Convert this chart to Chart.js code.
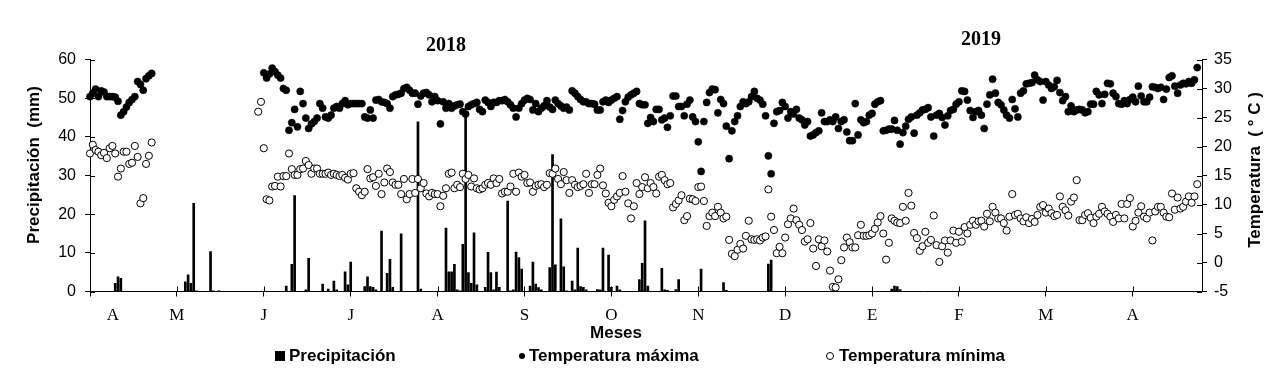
<!DOCTYPE html>
<html>
<head>
<meta charset="utf-8">
<script src="https://cdn.jsdelivr.net/npm/chart.js@4.4.1/dist/chart.umd.min.js"></script>
<style>
  html, body { margin: 0; padding: 0; background: #fff; }
  canvas { display: block; }
</style>
</head>
<body>
<canvas id="chart" width="1288" height="371"></canvas>
<script>
// month tick labels (Apr 2018 - Apr 2019), one tick every 31 daily points
const monthLabels = ['A', 'M', 'J', 'J', 'A', 'S', 'O', 'N', 'D', 'E', 'F', 'M', 'A'];
const yearLabels = ['2018', '2019'];
const pointsPerTick = 31;
const firstLabelAt = 8.2;   // the first "A" sits inside April, not on a tick
const lastDay = 396.7;

// daily maximum temperature (°C): early April block, then from day 62 on
const aprMaxStart = 0;
const aprMax = [28.6, 29.2, 29.9, 28.6, 29.6, 29.4, 28.6, 28.6, 28.6, 28.5, 27.8, 25.4, 26.0, 26.8,
  27.6, 28.1, 28.6, 31.2, 30.7, 29.7, 31.7, 32.2, 32.6];
const mainMaxStart = 62;
const mainMax = [
  32.7, 31.8, 32.5, 33.5, 32.9, 32.3, 31.8, 30.0, 29.7, 22.8, 24.1, 26.4, 23.4, 29.5, 27.4, 24.9, 23.1,
  23.9, 24.3, 24.9, 27.4, 26.6, 25.1, 24.9, 25.4, 26.6, 26.9, 26.6, 27.4, 27.9, 27.2, 27.4, 27.4, 27.4,
  27.4, 27.4, 25.1, 24.9, 26.3, 24.9, 28.0, 28.1, 27.7, 27.6, 27.4, 26.6, 28.6, 28.9, 29.0, 29.2, 30.0,
  30.2, 29.7, 29.2, 29.2, 27.3, 28.7, 29.2, 29.3, 28.9, 27.7, 28.6, 27.9, 23.9, 27.7, 26.6, 27.4, 26.6,
  27.0,
  27.2, 27.3, 26.0, 25.6, 26.9, 27.2, 27.4, 27.6, 26.4, 26.0, 28.0, 27.6, 26.9, 27.6, 27.6, 27.9, 27.9,
  28.1, 27.7, 27.2, 26.6, 25.1, 26.6, 27.4, 28.0, 28.3, 28.1, 26.3, 27.4, 26.0, 26.6, 27.0, 27.9, 26.8,
  26.4, 28.0, 27.4, 27.0, 26.6, 26.8, 26.3, 29.6, 29.2, 28.6, 28.1, 27.7, 27.7, 27.4, 27.4, 27.3, 26.3,
  26.3, 27.7, 28.0, 27.6, 28.0, 28.3, 28.6, 24.7, 26.2, 27.7, 28.5, 28.9, 29.2, 29.5, 27.4, 27.2, 27.2,
  24.0,
  25.0,
  24.3, 26.4, 26.4, 24.6, 24.9, 23.3, 25.3, 28.7, 28.7, 26.9, 26.9, 25.3, 27.3, 28.0, 25.1, 24.3, 20.8,
  15.7, 24.3, 27.6, 29.3, 29.9, 29.8, 25.8, 28.1, 27.4, 23.5, 17.9, 22.7, 24.3, 25.3, 26.9, 27.7, 27.4,
  27.7, 28.6, 29.5, 28.3, 28.0, 27.3, 25.3, 18.4, 15.3, 24.0, 26.0, 26.2, 27.6, 26.9, 24.9, 26.0, 25.6,
  26.4, 24.9, 24.6, 23.7, 24.3, 21.8, 22.0, 22.4, 22.7, 25.8, 24.3, 24.3, 24.6, 24.3, 25.1, 23.1, 24.3,
  24.6, 22.5, 21.0, 21.0, 27.4, 22.0, 24.6, 24.1, 24.3, 25.4, 25.7, 27.3, 27.7, 27.9, 22.7, 22.8, 23.0,
  23.0, 24.5, 22.8, 20.4, 22.4, 23.5, 24.7, 25.1, 22.3, 25.4, 25.8, 26.3, 26.4, 26.7, 25.1, 21.8, 25.4,
  25.7, 25.0, 23.7, 25.3, 26.2, 26.4, 27.3, 27.7, 29.6, 29.5, 28.0, 26.2, 25.0, 26.0, 26.2, 25.4, 23.1,
  27.3, 28.9, 31.6, 29.2, 27.6, 27.2, 26.3, 25.4, 24.9, 28.1, 26.5, 25.1, 29.2, 29.6, 30.8, 30.9,
  31.0,
  32.3, 31.5, 31.2, 28.0, 31.2, 30.6, 30.0, 30.3, 31.4, 29.3, 27.9, 28.6, 26.0, 27.0, 26.0, 26.3, 26.4,
  26.3, 25.8, 26.0, 27.3, 27.3, 29.5, 28.9, 27.4, 29.0, 30.9, 30.8, 29.2, 28.6, 27.4, 27.3, 27.9, 27.4,
  28.1, 28.5, 27.7, 30.4, 28.7, 27.7, 27.7, 28.5, 30.3, 30.2, 30.0, 30.2, 28.1, 29.9, 31.9, 32.2, 30.4,
  29.2, 30.6, 30.9, 30.8, 31.2, 30.9, 31.5, 33.6
];

// daily minimum temperature (°C)
const aprMinStart = 0;
const aprMin = [18.8, 20.3, 19.4, 19.1, 18.5, 18.9, 18.0, 19.7, 20.1, 18.8, 14.8, 16.2, 19.1, 19.1,
  17.0, 17.2, 20.1, 18.2, 10.2, 11.1, 17.0, 18.4, 20.7];
const mainMinStart = 60;
const mainMin = [
  26.0, 27.7, 19.7, 10.9, 10.7,
  13.1, 13.2, 14.8, 13.1, 14.9, 14.9, 18.8, 16.1, 15.1, 15.1, 16.1, 16.2, 17.5, 16.8, 15.3, 16.2, 16.2,
  15.3, 15.3, 15.3, 15.5, 15.1, 15.3, 15.1, 14.9, 15.1, 14.6, 14.3, 15.3, 15.4, 12.8, 12.2, 11.6, 12.2,
  16.1, 14.5, 14.7, 13.2, 15.3, 11.8, 13.8, 16.2, 15.6, 13.8, 13.4, 13.4, 11.8, 14.4, 10.9, 11.8, 14.4,
  12.0, 14.4, 12.8, 13.7, 11.9, 11.4, 12.0, 11.8, 11.8, 9.7, 11.5, 12.8, 15.3, 15.5, 12.8, 13.4,
  13.0, 15.3, 14.4, 15.1, 13.1, 14.5, 12.8, 12.6, 12.8, 13.4, 13.7, 13.4, 14.5, 13.7, 14.4, 11.9, 12.2,
  12.2, 13.1, 15.3, 12.2, 15.5, 14.8, 15.1, 13.7, 13.8, 12.2, 13.2, 13.4, 13.5, 13.0, 13.4, 15.4, 15.3,
  16.2, 14.4, 13.5, 15.6, 14.2, 12.0, 14.2, 13.4, 13.0, 13.2, 13.5, 15.3, 12.0, 13.5, 13.5, 15.1, 16.2,
  13.3, 11.9, 10.3, 9.7, 10.8, 11.4, 12.0, 14.9, 12.2, 10.2, 7.6, 9.7, 13.7, 11.8, 13.0, 14.7, 12.8, 13.7,
  13.0, 11.9, 14.8, 15.1, 14.2, 13.5, 13.7, 9.5, 10.1, 10.7, 11.6, 7.3, 8.0, 11.0, 10.9, 10.6, 13.0,
  13.1, 10.6, 6.3, 8.0, 8.6, 8.0, 9.6, 8.6, 7.6, 7.9, 3.9, 1.5, 1.1, 2.2, 3.2, 2.4, 4.6, 7.2, 4.0, 3.9,
  4.0, 3.8, 4.3, 4.5, 12.6, 7.9, 5.6, 1.6, 2.7, 1.6, 4.3, 6.6, 7.6, 9.3, 7.3, 6.5, 5.6, 3.6, 4.0, 6.8,
  2.4, -0.6, 4.0, 2.8, 3.8, 1.9, -1.4, -4.2, -4.3, -2.9, 0.4,
  2.6, 4.3, 3.5, 2.6, 2.6, 4.7, 6.5, 4.6, 4.6, 4.7, 5.0, 5.8, 6.9, 8.0, 5.0, 0.5, 3.4, 7.6, 7.2, 6.9,
  6.8, 9.6, 7.2, 12.0, 9.8, 5.1, 4.2, 2.0, 2.8, 5.3, 3.4, 3.9, 8.1, 3.0, 0.1, 2.8, 3.8, 1.7, 3.8, 5.5,
  3.4, 5.3, 3.6, 6.1, 5.0, 6.5, 7.2, 6.5, 7.1, 7.2, 6.2, 8.4, 7.1, 9.6, 8.6, 7.6, 7.6, 6.8, 5.5, 7.9,
  11.8, 8.2, 8.4, 7.6, 7.1, 7.8, 6.8,
  7.5,
  7.0, 8.2, 9.6, 9.9, 8.6, 9.3, 8.5, 8.0, 8.2, 11.4, 9.6, 9.0, 8.1, 10.5, 11.2, 14.2, 7.3, 7.3, 8.2,
  8.5, 7.7, 6.8, 7.9, 8.4, 9.6, 8.8, 8.4, 7.9, 7.0, 8.2, 7.6, 10.1, 7.6, 10.1, 11.1, 6.2, 7.2, 8.6, 9.7,
  7.9, 7.6, 8.6, 3.8, 8.8, 9.6, 9.6, 8.6, 7.9, 7.8, 11.9, 9.1, 11.2, 9.3, 9.6, 10.5, 11.4, 10.3, 11.4, 13.5
];

// daily precipitation (mm): days with rain and the amount
const rainDays = [9, 10, 11, 34, 35, 36, 37, 38, 43, 44, 46, 70, 72, 73, 77, 78, 83, 85, 87, 88, 91, 92,
  93, 98, 99, 100, 101, 102, 104, 106, 107, 108, 111, 117, 118, 127, 128, 129, 130, 131, 132, 133, 134,
  135, 136, 137, 138, 141, 142, 143, 144, 145, 146, 149, 150, 151, 152, 153, 154, 157, 158, 159, 160,
  161, 164, 165, 166, 168, 169, 170, 172, 173, 174, 175, 176, 177, 181, 182, 183, 185, 186, 188, 189,
  196, 197, 198, 199, 204, 205, 206, 209, 210, 218, 226, 227, 242, 243, 286, 287, 288, 289];
const rainMm = [2.1, 3.8, 3.4, 2.5, 4.3, 2.1, 22.8, 0.2, 10.3, 0.2, 0.2, 1.4, 7.0, 24.8, 0.4, 8.6, 1.9,
  0.6, 2.7, 0.4, 5.1, 1.7, 7.6, 1.3, 3.8, 1.3, 1.1, 0.4, 15.6, 4.7, 8.3, 1.1, 14.9, 43.9, 0.6, 16.4, 5.1,
  5.1, 7.0, 0.4, 0.2, 12.2, 45.6, 4.9, 2.1, 15.2, 1.7, 1.1, 10.1, 4.9, 0.4, 5.0, 1.1, 23.4, 0.2, 0.4,
  10.2, 8.8, 5.8, 1.4, 7.6, 1.9, 1.0, 0.4, 6.2, 35.4, 6.9, 18.8, 6.4, 0.2, 2.7, 0.4, 11.2, 1.3, 1.1, 0.4,
  0.5, 0.4, 11.2, 9.4, 1.1, 1.4, 0.4, 3.1, 7.3, 18.3, 1.4, 6.0, 0.4, 0.3, 0.5, 3.1, 5.8, 2.3, 0.3, 7.1,
  8.1, 0.6, 1.4, 1.3, 0.5];

const SANS = '"Liberation Sans", Arial, sans-serif';
const SERIF = '"Liberation Serif", "Times New Roman", serif';

const toPoints = (start, values) => values.map((v, i) => ({ x: start + i, y: v }));

const maxPoints = toPoints(aprMaxStart, aprMax).concat(toPoints(mainMaxStart, mainMax));
const minPoints = toPoints(aprMinStart, aprMin).concat(toPoints(mainMinStart, mainMin));
const rainPoints = rainDays.map((d, i) => ({ x: d, y: rainMm[i] }));

const tickValues = monthLabels.map((m, i) => i * pointsPerTick);

// Excel-like cross ticks (inner halves) and the free-standing texts
const decorations = {
  id: 'decorations',
  afterDraw(chart) {
    const { ctx, chartArea: a, scales } = chart;
    ctx.save();
    ctx.strokeStyle = '#000';
    ctx.lineWidth = 1;
    ctx.beginPath();
    tickValues.forEach(v => {
      const px = Math.round(scales.x.getPixelForValue(v)) + 0.5;
      ctx.moveTo(px, a.bottom);
      ctx.lineTo(px, a.bottom - 5);
    });
    scales.y.ticks.forEach(t => {
      const py = Math.round(scales.y.getPixelForValue(t.value)) + 0.5;
      ctx.moveTo(a.left, py);
      ctx.lineTo(a.left + 5, py);
    });
    scales.y1.ticks.forEach(t => {
      const py = Math.round(scales.y1.getPixelForValue(t.value)) + 0.5;
      ctx.moveTo(a.right, py);
      ctx.lineTo(a.right - 5, py);
    });
    ctx.stroke();

    ctx.fillStyle = '#000';
    ctx.textAlign = 'center';
    ctx.textBaseline = 'middle';
    ctx.font = 'bold 20px ' + SERIF;
    ctx.fillText(yearLabels[0], 446, 46);
    ctx.fillText(yearLabels[1], 981, 40);

    ctx.font = 'bold 17px ' + SANS;
    ctx.fillText('Meses', 616, 333);

    ctx.save();
    ctx.translate(34, 165);
    ctx.rotate(-Math.PI / 2);
    ctx.fillText('Precipitación  (mm)', 0, 0);
    ctx.restore();

    ctx.save();
    ctx.translate(1255, 170);
    ctx.rotate(-Math.PI / 2);
    ctx.fillText('Temperatura  ( \u00B0 C )', 0, 0);
    ctx.restore();

    // legend
    const ly = 356;
    ctx.textAlign = 'left';
    ctx.fillRect(275, ly - 5, 10, 10);
    ctx.fillText('Precipitación', 289, ly);
    ctx.beginPath();
    ctx.arc(522, ly, 3, 0, Math.PI * 2);
    ctx.fill();
    ctx.fillText('Temperatura máxima', 529, ly);
    ctx.beginPath();
    ctx.arc(830, ly, 3.5, 0, Math.PI * 2);
    ctx.lineWidth = 1;
    ctx.stroke();
    ctx.fillText('Temperatura mínima', 839, ly);
    ctx.restore();
  }
};

new Chart(document.getElementById('chart'), {
  type: 'scatter',
  data: {
    datasets: [
      {
        label: 'Temperatura máxima',
        data: maxPoints,
        yAxisID: 'y1',
        pointRadius: 3.6,
        pointBackgroundColor: '#000',
        pointBorderColor: '#000',
        pointBorderWidth: 0.5,
        clip: false
      },
      {
        label: 'Temperatura mínima',
        data: minPoints,
        yAxisID: 'y1',
        pointRadius: 3.6,
        pointBackgroundColor: '#fff',
        pointBorderColor: '#000',
        pointBorderWidth: 1,
        clip: false
      },
      {
        type: 'bar',
        label: 'Precipitación',
        data: rainPoints,
        yAxisID: 'y',
        backgroundColor: '#000',
        borderWidth: 0,
        barThickness: 2,
        grouped: false
      }
    ]
  },
  options: {
    responsive: false,
    animation: false,
    devicePixelRatio: 1,
    layout: { padding: { top: 59.5, left: 0, right: 0, bottom: 0 } },
    plugins: {
      legend: { display: false },
      tooltip: { enabled: false }
    },
    scales: {
      x: {
        type: 'linear',
        position: 'bottom',
        min: 0,
        max: lastDay,
        offset: false,
        afterBuildTicks: s => {
          s.ticks = [{ value: firstLabelAt }].concat(tickValues.map(v => ({ value: v })));
        },
        afterFit: s => { s.height = 79.5; },
        ticks: {
          autoSkip: false,
          maxRotation: 0,
          padding: 9,
          color: '#000',
          font: { family: SERIF, size: 17 },
          callback: v => {
            if (v === firstLabelAt) return monthLabels[0];
            if (v === 0) return '';
            return monthLabels[Math.round(v / pointsPerTick)];
          }
        },
        grid: {
          offset: false,
          drawOnChartArea: false,
          tickLength: 5,
          color: c => (c.tick && c.tick.value === firstLabelAt ? 'rgba(0,0,0,0)' : '#000')
        },
        border: { display: true, color: '#000', width: 1 }
      },
      y: {
        type: 'linear',
        position: 'left',
        min: 0,
        max: 60,
        afterFit: s => { s.width = 90; },
        ticks: { stepSize: 10, padding: 9, color: '#000', font: { family: SANS, size: 16 } },
        grid: { drawOnChartArea: false, tickLength: 5, color: '#000' },
        border: { display: true, color: '#000', width: 1 }
      },
      y1: {
        type: 'linear',
        position: 'right',
        min: -5,
        max: 35,
        afterFit: s => { s.width = 86; },
        ticks: { stepSize: 5, padding: 7, color: '#000', font: { family: SANS, size: 16 } },
        grid: { drawOnChartArea: false, tickLength: 5, color: '#000' },
        border: { display: true, color: '#000', width: 1 }
      }
    }
  },
  plugins: [decorations]
});
</script>
</body>
</html>
